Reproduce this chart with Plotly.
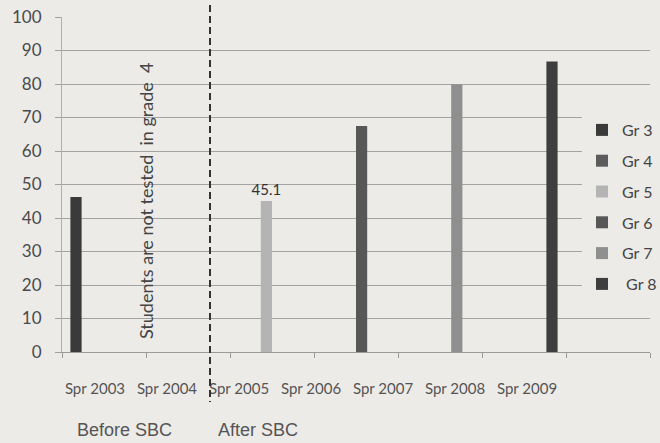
import plotly.graph_objects as go

# Reading scores by grade, spring testing window
years = ["Spr 2003", "Spr 2004", "Spr 2005", "Spr 2006", "Spr 2007", "Spr 2008", "Spr 2009"]
grades = ["Gr 3", "Gr 4", "Gr 5", "Gr 6", "Gr 7", " Gr 8"]
gr3 = [46.3, None, None, None, None, None, None]
gr4 = [None, None, None, None, None, None, None]
gr5 = [None, None, 45.1, None, None, None, None]
gr6 = [None, None, None, 67.5, None, None, None]
gr7 = [None, None, None, None, 79.9, None, None]
gr8 = [None, None, None, None, None, 86.7, None]
series = [gr3, gr4, gr5, gr6, gr7, gr8]
colors = ["#3a3a3a", "#5c5c5c", "#b4b4b4", "#575757", "#8f8f8f", "#3e3e3e"]
labelled = {2: 2}  # series index -> category index carrying a value label

BG = "#ecebe8"
W, H = 660, 443
L, R, T, B = 62, 10, 17, 91
pw, ph = W - L - R, H - T - B

def px_x(p):
    return (p - L) / pw

def px_y(p):
    return (H - B - p) / ph

fig = go.Figure()
for i, (name, vals, col) in enumerate(zip(grades, series, colors)):
    text = None
    if i in labelled:
        text = ["" if v is None else f"{v}" for v in vals]
    fig.add_trace(go.Bar(
        x=years, y=vals, name=name, marker=dict(color=col, line=dict(width=0)),
        text=text, textposition="outside", cliponaxis=False, constraintext="none",
        textfont=dict(family="Lato", size=15, color="#333333"),
        legendgroup=name,
    ))

# helper trace for the shifted category labels
fig.add_trace(go.Scatter(x=list(range(len(years))), y=[None] * len(years), xaxis="x2",
                         showlegend=False, hoverinfo="skip"))

fig.update_layout(
    width=W, height=H,
    margin=dict(l=L, r=R, t=T, b=B, autoexpand=False),
    paper_bgcolor=BG, plot_bgcolor=BG,
    barmode="group", bargap=0.2, bargroupgap=0,
    font=dict(family="Lato", color="#555555"),
    xaxis=dict(type="category", showticklabels=False, ticks="outside", tickson="boundaries",
               ticklen=5, tickcolor="#999999", showline=True, linecolor="#9a9a9a",
               showgrid=False, zeroline=False),
    xaxis2=dict(overlaying="x", anchor="y", side="bottom", range=[-0.458, 7.708],
                tickvals=list(range(len(years))), ticktext=years, showgrid=False,
                showline=False, zeroline=False, ticks="", ticklabelstandoff=26,
                tickfont=dict(family="Lato", size=15, color="#555555")),
    yaxis=dict(range=[0, 100], dtick=10, showgrid=True, gridcolor="#a3a3a3", gridwidth=1,
               showline=True, linecolor="#b0b0b0", ticks="outside", ticklen=6,
               tickcolor="#a0a0a0", zeroline=False, ticklabelstandoff=10,
               tickfont=dict(family="Lato", size=17, color="#4a4a4a")),
    legend=dict(x=px_x(582), y=px_y(113), xanchor="left", yanchor="top",
                bgcolor=BG, font=dict(family="Lato", size=16, color="#444444"),
                traceorder="grouped", tracegroupgap=7, itemwidth=30),
    showlegend=True,
)

# split between the two periods
fig.add_shape(type="line", xref="paper", yref="paper",
              x0=px_x(210), x1=px_x(210), y0=px_y(5), y1=px_y(402),
              line=dict(color="#333333", width=2, dash="7px,4px"))

fig.add_annotation(text="Students are not tested  in grade  4", xref="paper", yref="paper",
                   x=px_x(146), y=px_y(201), xanchor="center", yanchor="middle",
                   textangle=-90, showarrow=False,
                   font=dict(family="Lato", size=18, color="#444444"))
fig.add_annotation(text="Before SBC", xref="paper", yref="paper", x=px_x(124), y=px_y(430),
                   xanchor="center", yanchor="middle", showarrow=False,
                   font=dict(family="Liberation Sans", size=18, color="#555555"))
fig.add_annotation(text="After SBC", xref="paper", yref="paper", x=px_x(258), y=px_y(430),
                   xanchor="center", yanchor="middle", showarrow=False,
                   font=dict(family="Liberation Sans", size=18, color="#555555"))

fig.write_html("out.html")
